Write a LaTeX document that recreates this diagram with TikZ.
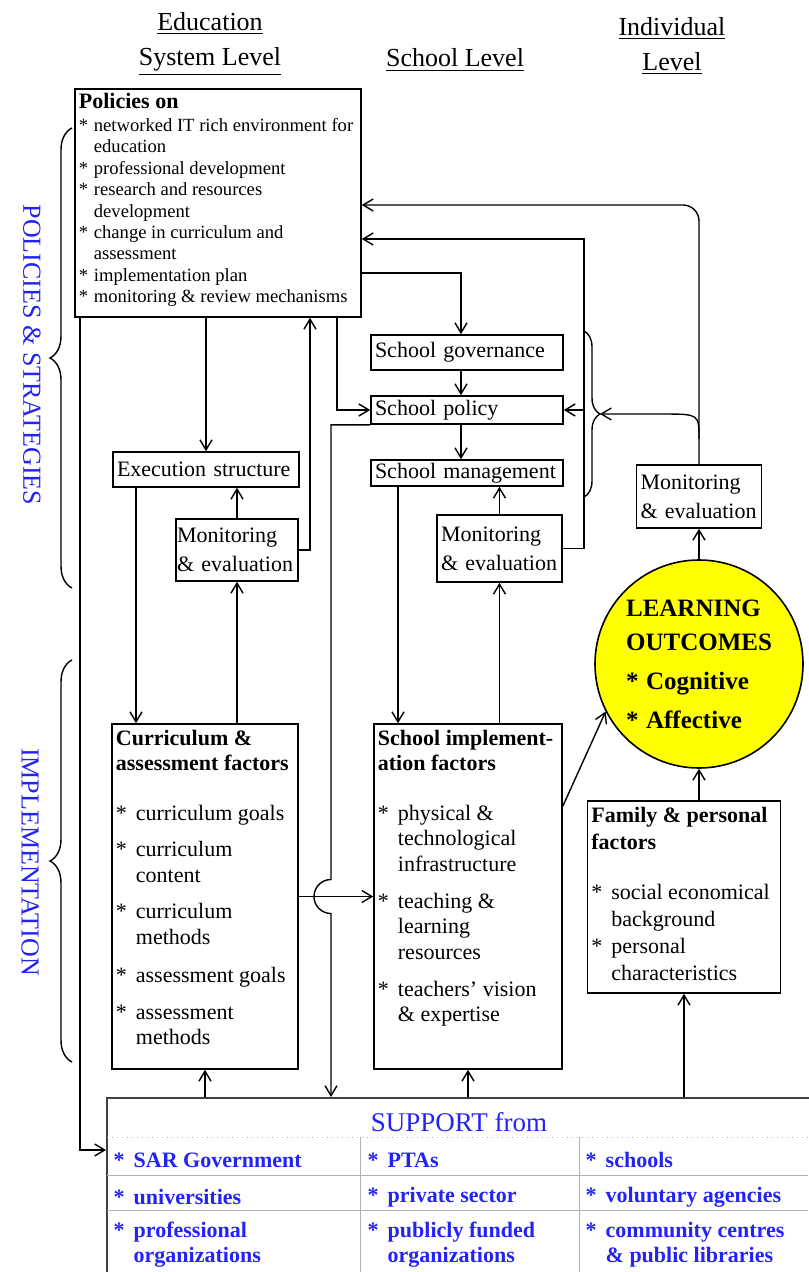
\documentclass[tikz,border=0pt]{standalone}
\usepackage{fontspec}
\setmainfont{Liberation Serif}
\usepackage{xcolor}
\usepackage{tikz}
\usetikzlibrary{arrows.meta,decorations.pathreplacing}

\definecolor{lblue}{RGB}{35,35,245}
\definecolor{lyellow}{RGB}{255,255,0}
\def\stx#1{\makebox[#1][l]{*}}

\begin{document}
\begin{tikzpicture}[x=0.5pt,y=-0.5pt,line width=0.7pt,
  >={Straight Barb[length=5pt,width=6pt]},
  frame/.style={draw,line width=0.8pt,inner sep=0pt},
  bx/.style={draw,line width=0.8pt,inner xsep=2pt,inner ysep=0pt,align=left,
    font=\fontsize{11}{14.5}\selectfont},
  hd/.style={align=center,font=\fontsize{13}{17.5}\selectfont},
  side/.style={rotate=-90,text=lblue,font=\fontsize{13}{15}\selectfont},
  ftxt/.style={anchor=north west,inner xsep=2pt,inner ysep=3pt,align=left,
    font=\fontsize{11}{12.75}\selectfont},
  cell/.style={anchor=west,inner sep=0pt,align=left,text=lblue,
    font=\fontsize{11}{12.5}\selectfont\bfseries}]

\useasboundingbox (0,0) rectangle (808,1272);

\node[hd] (hEdu) at (210,44) {\underline{Education}\\\underline{System Level}};
\node[hd] (hSch) at (455,60) {\underline{School Level}};
\node[hd] (hInd) at (672,46) {\underline{Individual}\\\underline{Level}};

\node[side] (lPol) at (32,355) {POLICIES \& STRATEGIES};
\node[side] (lImp) at (30,862) {IMPLEMENTATION};

\draw[decorate,decoration={brace,amplitude=11pt}] (72,588) -- (72,128);
\draw[decorate,decoration={brace,amplitude=11pt}] (72,1062) -- (72,660);

\node[frame,minimum width=143pt,minimum height=114pt] (pol) at (218,203) {};
\node[anchor=north west,inner sep=2pt,align=left,font=\fontsize{9.3}{10.7}\selectfont] (polT) at (pol.north west)
 {{\fontsize{11}{12}\selectfont\bfseries Policies on}\\[1pt]
  \stx{7.5pt}networked IT rich environment for\\
  \hspace*{7.5pt}education\\
  \stx{7.5pt}professional development\\
  \stx{7.5pt}research and resources\\
  \hspace*{7.5pt}development\\
  \stx{7.5pt}change in curriculum and\\
  \hspace*{7.5pt}assessment\\
  \stx{7.5pt}implementation plan\\
  \stx{7.5pt}monitoring \& review mechanisms};

\node[bx,text width=89pt,minimum height=17.5pt] (exec) at (206,469.5) {Execution structure};
\node[bx,inner xsep=0.5pt,text width=60pt,minimum height=31pt] (mon1) at (237,550) {Monitoring\\\& evaluation};

\node[bx,text width=92pt,minimum height=17.5pt] (gov) at (467,352.5) {School governance};
\node[bx,text width=92pt,minimum height=14pt] (spol) at (467,410) {School policy};
\node[bx,text width=92pt,minimum height=13pt] (mgmt) at (467,473) {School management};
\node[bx,text width=58.5pt,minimum height=33.5pt] (mon2) at (499.5,548.5) {Monitoring\\\& evaluation};

\node[bx,text width=58.5pt,minimum height=31.5pt] (mon3) at (699,496.5) {Monitoring\\\& evaluation};

\node[circle,draw,line width=0.8pt,fill=lyellow,minimum size=104pt,inner sep=0pt,align=left,
  font=\fontsize{12.5}{17}\selectfont\bfseries] (lo) at (699,664)
 {LEARNING\\OUTCOMES\\[2.5pt]\stx{10pt}Cognitive\\[2.5pt]\stx{10pt}Affective};

\node[frame,minimum width=93pt,minimum height=172.5pt] (curr) at (205,896.5) {};
\node[ftxt] (currT) at (curr.north west)
 {\textbf{Curriculum \&}\\
  \textbf{assessment factors}\\[12pt]
  \stx{10pt}curriculum goals\\[5.5pt]
  \stx{10pt}curriculum\\
  \hspace*{10pt}content\\[5.5pt]
  \stx{10pt}curriculum\\
  \hspace*{10pt}methods\\[6.5pt]
  \stx{10pt}assessment goals\\[5.5pt]
  \stx{10pt}assessment\\
  \hspace*{10pt}methods};

\node[frame,minimum width=94pt,minimum height=172.5pt] (simp) at (468,896.5) {};
\node[ftxt] (simpT) at (simp.north west)
 {\textbf{School implement-}\\
  \textbf{ation factors}\\[12pt]
  \stx{10pt}physical \&\\
  \hspace*{10pt}technological\\
  \hspace*{10pt}infrastructure\\[5.75pt]
  \stx{10pt}teaching \&\\
  \hspace*{10pt}learning\\
  \hspace*{10pt}resources\\[5.75pt]
  \stx{10pt}teachers' vision\\
  \hspace*{10pt}\& expertise};

\node[frame,minimum width=96.5pt,minimum height=96pt] (fam) at (684,897) {};
\node[ftxt,font=\fontsize{11}{13.5}\selectfont] (famT) at (fam.north west)
 {\textbf{Family \& personal}\\
  \textbf{factors}\\[11.5pt]
  \stx{10pt}social economical\\
  \hspace*{10pt}background\\
  \stx{10pt}personal\\
  \hspace*{10pt}characteristics};

\node[frame,draw=black!75,line width=1pt,minimum width=352.5pt,minimum height=89pt] (sup) at (459.5,1187) {};
\draw[gray!60,line width=0.5pt,dotted] (107,1137) -- (808,1137);
\foreach \r in {1175,1210}{
	\draw[gray!60,line width=0.5pt] (107,\r) -- (808,\r);
}
\foreach \c in {360,579}{
	\draw[gray!60,line width=0.5pt] (\c,1137) -- (\c,1272);
}
\node[text=lblue,font=\fontsize{13.5}{15}\selectfont] (supT) at (459,1122) {SUPPORT from};
\node[cell] (s11) at (113,1160) {\stx{10pt}SAR Government};
\node[cell] (s12) at (367,1160) {\stx{10pt}PTAs};
\node[cell] (s13) at (585,1160) {\stx{10pt}schools};
\node[cell] (s21) at (113,1197) {\stx{10pt}universities};
\node[cell] (s22) at (367,1197) {\stx{10pt}private sector};
\node[cell] (s23) at (585,1197) {\stx{10pt}voluntary agencies};
\node[cell] (s31) at (113,1245) {\stx{10pt}professional\\\hspace*{10pt}organizations};
\node[cell] (s32) at (367,1245) {\stx{10pt}publicly funded\\\hspace*{10pt}organizations};
\node[cell] (s33) at (585,1245) {\stx{10pt}community centres\\\hspace*{10pt}\& public libraries};

\coordinate (c1) at (310,550);
\coordinate (c3) at (331,424);
\coordinate (c4) at (584,239);
\coordinate (c5) at (699,205);
\coordinate (c6) at (461,273);
\coordinate (c7) at (337,408);
\coordinate (c9) at (665,414);
\coordinate (c10) at (80,1150);
\coordinate (btip) at (600,414);

\draw[->] (pol.south -| exec.north) -- (exec.north);
\draw[->] (mon1.north) -- (mon1.north |- exec.south);
\draw[->] (mon1.east) -| (c1 |- pol.south);
\draw[->] ([xshift=-35pt]exec.south) -- ([xshift=-35pt]exec.south |- curr.north);
\draw[->] (mon1.south |- curr.north) -- (mon1.south);
\draw[->] (curr.east) -- (curr.east -| simp.west);
\draw[->] (spol.south west) -- (spol.south west -| c3) -- ([yshift=8.5pt]c3 |- curr.east)
  arc[start angle=90,end angle=270,radius=8.5pt] -- (c3 |- sup.north);

\draw[->] (c6 -| pol.east) -- (c6) -- (c6 |- gov.north);
\draw[->] (c6 |- gov.south) -- (c6 |- spol.north);
\draw[->] (c6 |- spol.south) -- (c6 |- mgmt.north);
\draw[->] (c7 |- pol.south) -- (c7 |- spol.west) -- (spol.west);
\draw[->] ([xshift=-34.5pt]mgmt.south) -- ([xshift=-34.5pt]mgmt.south |- simp.north);
\draw[->] (mon2.south |- simp.north) -- (mon2.south);
\draw[->] (mon2.north) -- (mon2.north |- mgmt.south);
\draw[->] (mon2.east) -| (c4) -- (c4 -| pol.east);
\draw[->,rounded corners=8pt] (mon3.north) |- (c5 -| pol.east);
\draw[->] (lo.north) -- (lo.north |- mon3.south);

\draw[decorate,decoration={brace,amplitude=8pt}] (584,331) -- (584,497);
\draw[->] ([yshift=12.5pt]mon3.north) .. controls ([yshift=25pt]mon3.north) .. (c9) -- (btip);
\draw[->] (c4 |- spol.east) -- (spol.east);

\draw[->] ([yshift=-41.5pt]simp.north east) -- (lo.207);
\draw[->] (lo.south |- fam.north) -- (lo.south);
\draw[->] (fam.south |- sup.north) -- (fam.south);
\draw[->] (simp.south |- sup.north) -- (simp.south);
\draw[->] (curr.south |- sup.north) -- (curr.south);
\draw[->] (c10 |- pol.south) -- (c10) -- (c10 -| sup.west);

\end{tikzpicture}
\end{document}
